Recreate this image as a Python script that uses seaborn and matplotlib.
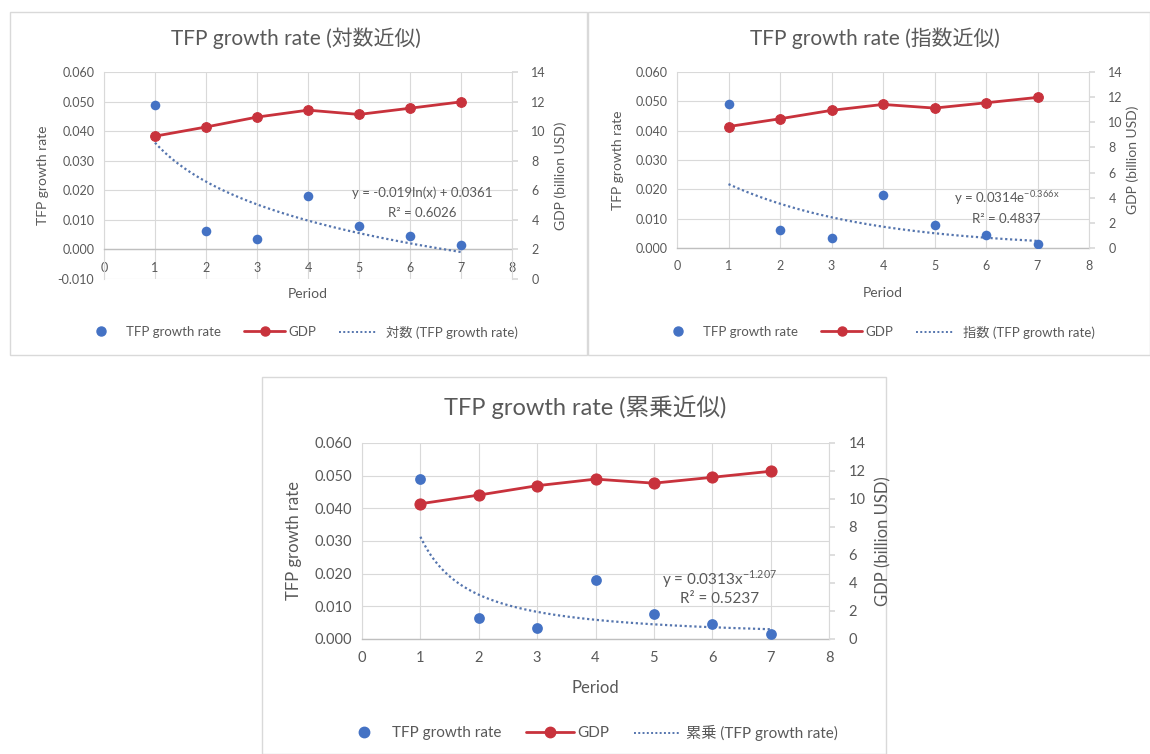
import numpy as np
import matplotlib
matplotlib.use("Agg")
import matplotlib.pyplot as plt
from matplotlib.patches import Rectangle
from matplotlib.lines import Line2D
import seaborn as sns

# ---- data -------------------------------------------------------------
periods = [1, 2, 3, 4, 5, 6, 7]
tfp_growth = [0.0490, 0.0063, 0.0035, 0.0181, 0.0078, 0.0045, 0.0015]
gdp_billion = [9.66, 10.28, 10.95, 11.42, 11.13, 11.55, 11.98]

x_ticks = [0, 1, 2, 3, 4, 5, 6, 7, 8]
gdp_ticks = [0, 2, 4, 6, 8, 10, 12, 14]

# trendline coefficients (as reported by the fits)
log_a, log_b, log_r2 = -0.019, 0.0361, 0.6026
exp_c, exp_k, exp_r2 = 0.0314, -0.366, 0.4837
pow_c, pow_p, pow_r2 = 0.0313, -1.207, 0.5237

# ---- style ------------------------------------------------------------
sns.set_theme(style="white")
plt.rcParams["font.family"] = ["Lato", "Noto Sans CJK JP", "DejaVu Sans"]
plt.rcParams["mathtext.fontset"] = "custom"
plt.rcParams["mathtext.rm"] = "Lato"

TEXT = "#595959"
GRID = "#D9D9D9"
BLUE = "#4472C4"
RED = "#C8323C"
TREND = "#5575AE"

W, H = 1150, 754
fig = plt.figure(figsize=(W / 100, H / 100), dpi=100)
fig.patch.set_facecolor("white")


def px_rect(x0, x1, ytop, ybot):
    return [x0 / W, 1 - ybot / H, (x1 - x0) / W, (ybot - ytop) / H]


def legend_entry(handle, label, x_px, y_px, length_px, pad_px, fs):
    """One legend entry whose handle starts at pixel x_px."""
    em = fs * 100 / 72
    leg = fig.legend([handle], [label], loc="center left", frameon=False,
                     bbox_to_anchor=(x_px / W, 1 - y_px / H),
                     fontsize=fs, handlelength=length_px / em,
                     handletextpad=pad_px / em, borderpad=0,
                     borderaxespad=0)
    for t in leg.get_texts():
        t.set_color(TEXT)


xs = np.linspace(1, 7, 200)
panels = [
    dict(
        title="TFP growth rate (対数近似)",
        trend_name="対数 (TFP growth rate)",
        trend=log_a * np.log(xs) + log_b,
        eq="y = -0.019ln(x) + 0.0361",
        r2=f"R² = {log_r2:.4f}",
        eq_xy=(6.24, 0.0192), r2_xy=(6.24, 0.0122),
        axrect=px_rect(104, 512, 72, 279),
        ylim=(-0.010, 0.060),
        yticks=[-0.010, 0.000, 0.010, 0.020, 0.030, 0.040, 0.050, 0.060],
        border=(10, 12, 587, 355),
        title_xy=(296, 38), title_fs=15,
        leg_y=332, leg_x=[(95, 12, 19), (244, 41, 3), (339, 37, 10)],
        fs=9, eq_fs=9.5, leg_fs=9.5, lab_fs=10, ylab_x=-55 / 408,
        y2lab_x=1.105, xlab_y=-9 / 207, ms=7, s=48,
    ),
    dict(
        title="TFP growth rate (指数近似)",
        trend_name="指数 (TFP growth rate)",
        trend=exp_c * np.exp(exp_k * xs),
        eq=r"y = 0.0314e$^{\mathregular{-0.366x}}$",
        r2=f"R² = {exp_r2:.4f}",
        eq_xy=(6.40, 0.0170), r2_xy=(6.40, 0.0100),
        axrect=px_rect(677, 1089, 72, 248),
        ylim=(0.000, 0.060),
        yticks=[0.000, 0.010, 0.020, 0.030, 0.040, 0.050, 0.060],
        border=(588, 12, 1150, 355),
        title_xy=(875, 38), title_fs=15,
        leg_y=332, leg_x=[(672, 12, 19), (821, 41, 3), (916, 37, 10)],
        fs=9, eq_fs=9.5, leg_fs=9.5, lab_fs=10, ylab_x=-53 / 412,
        y2lab_x=1.090, xlab_y=-39 / 176, ms=7, s=48,
    ),
    dict(
        title="TFP growth rate (累乗近似)",
        trend_name="累乗 (TFP growth rate)",
        trend=pow_c * xs ** pow_p,
        eq=r"y = 0.0313x$^{\mathregular{-1.207}}$",
        r2=f"R² = {pow_r2:.4f}",
        eq_xy=(6.13, 0.0183), r2_xy=(6.13, 0.0122),
        axrect=px_rect(362, 829, 443, 639),
        ylim=(0.000, 0.060),
        yticks=[0.000, 0.010, 0.020, 0.030, 0.040, 0.050, 0.060],
        border=(262, 377, 886, 754),
        title_xy=(585, 407), title_fs=17,
        leg_y=733, leg_x=[(358, 12, 22), (526, 48, 3), (634, 45, 7)],
        fs=10.5, eq_fs=11, leg_fs=11, lab_fs=12, ylab_x=-60 / 467,
        y2lab_x=1.0985, xlab_y=-41 / 196, ms=8, s=60,
    ),
]

for p in panels:
    # chart frame
    bx0, by0, bx1, by1 = p["border"]
    fig.patches.append(Rectangle((bx0 / W, 1 - by1 / H), (bx1 - bx0) / W, (by1 - by0) / H,
                                 transform=fig.transFigure, fill=False,
                                 edgecolor=GRID, linewidth=1.0, zorder=0))

    ax = fig.add_axes(p["axrect"])
    ax2 = ax.twinx()
    ax.set_zorder(2)
    ax.patch.set_visible(False)

    ax2.set_ylim(0, 14)
    ax2.set_yticks(gdp_ticks)
    ax.set_xlim(0, 8)
    ax.set_ylim(*p["ylim"])
    ax.set_xticks(x_ticks)
    ax.set_yticks(p["yticks"])
    ax.grid(True, color=GRID, linewidth=0.8)
    ax.set_axisbelow(True)
    ax2.grid(False)

    # series
    sns.lineplot(x=xs, y=p["trend"], ax=ax, color=TREND, linestyle=(0, (1, 1.2)),
                 linewidth=1.6, zorder=3)
    sns.scatterplot(x=periods, y=tfp_growth, ax=ax, color=BLUE, s=p["s"],
                    edgecolor=BLUE, linewidth=0, zorder=4)
    sns.lineplot(x=periods, y=gdp_billion, ax=ax2, color=RED, linewidth=2.0,
                 marker="o", markersize=p["ms"], markeredgecolor=RED, zorder=5)

    # GDP axes drawn on top of the primary axes
    ax2.set_zorder(3)
    ax2.patch.set_visible(False)

    # axes styling
    ax.yaxis.set_major_formatter(matplotlib.ticker.FormatStrFormatter("%.3f"))
    for sp in ["top", "right"]:
        ax.spines[sp].set_visible(False)
    ax.spines["left"].set_color(GRID)
    ax.spines["left"].set_linewidth(0.8)
    ax.spines["bottom"].set_position(("data", 0))
    ax.spines["bottom"].set_color("#BFBFBF")
    ax.spines["bottom"].set_linewidth(1.0)
    ax.tick_params(axis="both", length=0, labelsize=p["fs"], labelcolor=TEXT)
    ax.tick_params(axis="x", pad=9)
    ax.tick_params(axis="y", pad=7)

    for sp in ["top", "left", "bottom"]:
        ax2.spines[sp].set_visible(False)
    ax2.spines["right"].set_color(GRID)
    ax2.spines["right"].set_linewidth(0.8)
    ax2.tick_params(axis="y", length=4, color=GRID, labelsize=p["fs"],
                    labelcolor=TEXT, pad=10)

    ax.set_xlabel("Period", fontsize=p["lab_fs"], color=TEXT)
    ax.xaxis.set_label_coords(0.5, p["xlab_y"])
    ax.set_ylabel("TFP growth rate", fontsize=p["lab_fs"], color=TEXT)
    ax.yaxis.set_label_coords(p["ylab_x"], 0.5)
    ax2.set_ylabel("GDP (billion USD)", fontsize=p["lab_fs"], color=TEXT,
                   rotation=90)
    ax2.yaxis.set_label_coords(p["y2lab_x"], 0.5)

    # trendline equation
    ax.text(*p["eq_xy"], p["eq"], ha="center", va="center",
            fontsize=p["eq_fs"], color=TEXT, zorder=6)
    ax.text(*p["r2_xy"], p["r2"], ha="center", va="center",
            fontsize=p["eq_fs"], color=TEXT, zorder=6)

    fig.text(p["title_xy"][0] / W, 1 - p["title_xy"][1] / H, p["title"],
             ha="center", va="center", fontsize=p["title_fs"], color=TEXT)

    handles = [
        Line2D([], [], linestyle="none", marker="o", markersize=p["ms"] - 0.5,
               color=BLUE),
        Line2D([], [], color=RED, linewidth=2.0, marker="o",
               markersize=p["ms"] - 0.5),
        Line2D([], [], color=TREND, linestyle=(0, (1, 1.2)), linewidth=1.4),
    ]
    labels = ["TFP growth rate", "GDP", p["trend_name"]]
    for h, lab, (lx, llen, lpad) in zip(handles, labels, p["leg_x"]):
        legend_entry(h, lab, lx, p["leg_y"], llen, lpad, p["leg_fs"])

fig.savefig("out.png", dpi=100, facecolor="white")
